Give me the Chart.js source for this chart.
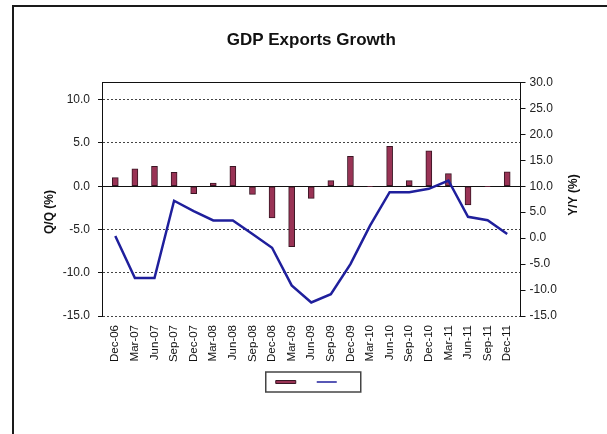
<!DOCTYPE html>
<html>
<head>
<meta charset="utf-8">
<script src="https://cdn.jsdelivr.net/npm/chart.js@4"></script>
<style>
  body { margin: 0; width: 607px; height: 434px; overflow: hidden; background: #fff; position: relative; }
  .frame { position: absolute; left: 12px; top: 5px; width: 700px; height: 500px;
           border-left: 2px solid #1a1a1a; border-top: 2px solid #1a1a1a; }
  canvas { position: absolute; left: 0; top: 0; }
</style>
</head>
<body>
<div class="frame"></div>
<canvas id="gdpChart" width="607" height="434"></canvas>
<script>
const quarters = ["Dec-06", "Mar-07", "Jun-07", "Sep-07", "Dec-07", "Mar-08", "Jun-08",
  "Sep-08", "Dec-08", "Mar-09", "Jun-09", "Sep-09", "Dec-09", "Mar-10", "Jun-10",
  "Sep-10", "Dec-10", "Mar-11", "Jun-11", "Sep-11", "Dec-11"];

// quarter on quarter growth, left axis (bars)
const qoqData = [1.0, 2.0, 2.3, 1.6, -0.85, 0.35, 2.3, -0.95, -3.65, -7.0, -1.4,
  0.65, 3.45, -0.05, 4.6, 0.65, 4.1, 1.45, -2.15, -0.05, 1.65];

// year on year growth, right axis (line)
const yoyData = [0.4, -7.7, -7.7, 7.2, 5.2, 3.4, 3.4, 0.8, -1.85, -9.1, -12.4,
  -10.8, -5.0, 2.4, 8.85, 8.85, 9.5, 11.1, 4.1, 3.45, 0.8];

const FONT = '"Liberation Sans", Arial, sans-serif';

const decorations = {
  id: 'decorations',
  beforeDatasetsDraw(chart) {
    const { ctx, chartArea: a, scales } = chart;
    const y0 = scales.y.getPixelForValue(0);
    ctx.save();
    ctx.strokeStyle = '#111';
    ctx.lineWidth = 1;
    ctx.beginPath();
    ctx.moveTo(a.left, Math.round(y0) + 0.5);
    ctx.lineTo(a.right, Math.round(y0) + 0.5);
    ctx.moveTo(a.left, Math.round(a.top) + 0.5);
    ctx.lineTo(a.right, Math.round(a.top) + 0.5);
    ctx.stroke();
    ctx.restore();
  },
  afterDraw(chart) {
    const { ctx } = chart;
    ctx.save();
    ctx.fillStyle = '#111';
    ctx.font = 'bold 12px ' + FONT;
    ctx.textAlign = 'center';
    ctx.textBaseline = 'middle';
    [['Q/Q (%)', 50, 212], ['Y/Y (%)', 574, 195]].forEach(([t, x, y]) => {
      ctx.save();
      ctx.translate(x, y);
      ctx.rotate(-Math.PI / 2);
      ctx.fillText(t, 0, 0);
      ctx.restore();
    });
    // box round the legend
    const boxes = chart.legend.legendHitBoxes;
    if (boxes.length) {
      const first = boxes[0], last = boxes[boxes.length - 1];
      const cy = first.top + first.height / 2;
      const x0 = first.left - 10, x1 = last.left + last.width + 14;
      ctx.strokeStyle = '#444';
      ctx.lineWidth = 1.5;
      ctx.strokeRect(x0, cy - 10, x1 - x0, 20);
    }
    ctx.restore();
  }
};

new Chart(document.getElementById('gdpChart'), {
  data: {
    datasets: [
      {
        type: 'bar',
        label: 'Q/Q (%)',
        data: qoqData.map((v, i) => ({ x: i, y: v })),
        yAxisID: 'y',
        backgroundColor: '#993355',
        borderColor: '#3a1624',
        borderWidth: 1,
        borderSkipped: false,
        barThickness: 6,
        pointStyle: 'rect',
        order: 2
      },
      {
        type: 'line',
        label: 'Y/Y (%)',
        data: yoyData.map((v, i) => ({ x: i, y: v })),
        yAxisID: 'y2',
        borderColor: '#1f1f9c',
        borderWidth: 2.5,
        pointRadius: 0,
        tension: 0,
        fill: false,
        pointStyle: 'line',
        order: 1
      }
    ]
  },
  options: {
    responsive: false,
    animation: false,
    layout: { padding: { left: 0, right: 0, top: 0, bottom: 37 } },
    plugins: {
      tooltip: { enabled: false },
      title: {
        display: true,
        text: 'GDP Exports Growth',
        fullSize: false,
        color: '#111',
        font: { family: FONT, size: 17, weight: 'bold' },
        padding: { top: 30, bottom: 32 }
      },
      legend: {
        position: 'bottom',
        fullSize: false,
        labels: {
          usePointStyle: true,
          pointStyleWidth: 20,
          boxHeight: 3,
          padding: 11,
          font: { family: FONT, size: 10 },
          sort: (a, b) => a.datasetIndex - b.datasetIndex,
          generateLabels(chart) {
            const items = Chart.defaults.plugins.legend.labels.generateLabels(chart);
            items.forEach(it => {
              it.text = '\u2002';
              if (it.pointStyle === 'line') {
                it.lineWidth = 1.5;
                it.strokeStyle = '#1f1f9c';
              }
            });
            return items;
          }
        }
      }
    },
    scales: {
      x: {
        type: 'linear',
        min: -0.17,
        max: 20.17,
        afterFit: s => { s.height = 50; },
        grid: { display: false, drawTicks: false },
        border: { display: false },
        ticks: {
          stepSize: 1,
          includeBounds: false,
          autoSkip: false,
          maxRotation: 90,
          minRotation: 90,
          padding: 9,
          color: '#111',
          font: { family: FONT, size: 11.5 },
          callback: v => quarters[v]
        }
      },
      y: {
        position: 'left',
        min: -15,
        max: 12,
        afterFit: s => { s.width = 102; },
        grid: {
          color: c => (c.tick && c.tick.value === 0) ? 'rgba(0,0,0,0)' : '#444',
          lineWidth: 1,
          tickLength: 4,
          tickColor: '#111'
        },
        border: { display: true, color: '#111', width: 1, dash: [2, 2] },
        ticks: {
          stepSize: 5,
          includeBounds: false,
          padding: 8,
          color: '#222',
          font: { family: FONT, size: 12 },
          callback: v => v.toFixed(1)
        }
      },
      y2: {
        position: 'right',
        min: -15,
        max: 30,
        afterFit: s => { s.width = 86.5; },
        grid: { drawOnChartArea: false, tickLength: 5, tickColor: '#111' },
        border: { display: true, color: '#111', width: 1 },
        ticks: {
          stepSize: 5,
          padding: 4,
          color: '#222',
          font: { family: FONT, size: 12 },
          callback: v => v.toFixed(1)
        }
      }
    }
  },
  plugins: [decorations]
});
</script>
</body>
</html>
